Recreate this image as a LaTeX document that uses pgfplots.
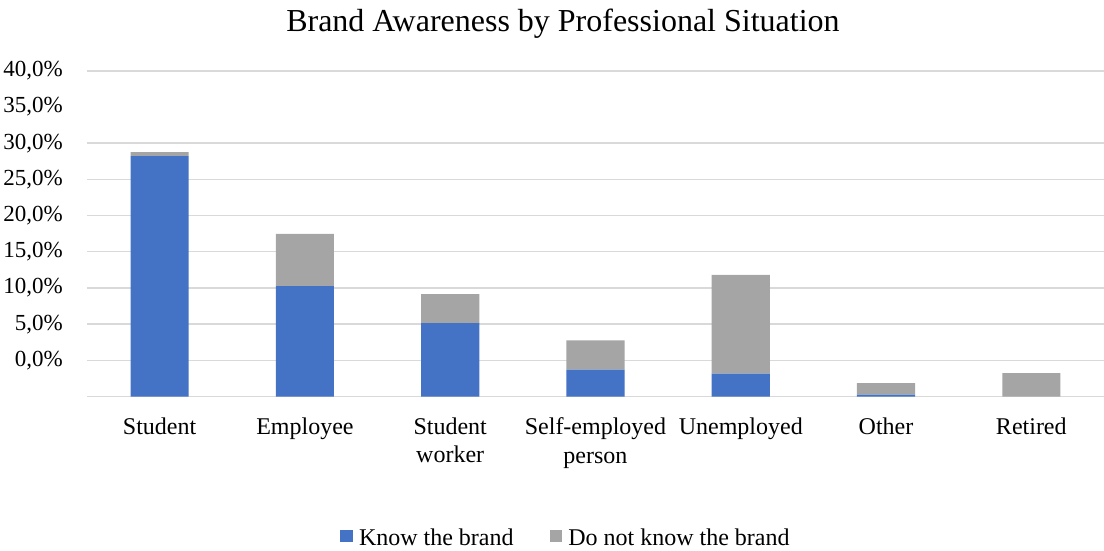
\documentclass[border=0pt]{standalone}
\usepackage{fontspec}
\setmainfont{Liberation Serif}
\usepackage{pgfplots}
\pgfplotsset{compat=1.18}
\definecolor{knowblue}{HTML}{4472C4}
\definecolor{dkgray}{HTML}{A5A5A5}
\definecolor{gridgray}{HTML}{D9D9D9}
\begin{document}
\begin{tikzpicture}[x=1pt,y=1pt]
\useasboundingbox (0,0) rectangle (1104,550);
\node[anchor=base, inner sep=0pt, font=\fontsize{32}{37}\selectfont] at (563,518.5) {Brand Awareness by Professional Situation};
\begin{axis}[
  at={(87pt,153.5pt)}, anchor=south west,
  scale only axis, width=1017pt, height=325.7pt,
  ybar stacked, bar width=0.4,
  xmin=-0.5, xmax=6.5, ymin=0, ymax=45,
  axis line style={draw=none},
  major tick length=0pt,
  xtick={0,1,2,3,4,5,6},
  xticklabels={Student, Employee, {Student\\worker}, {Self-employed\\person}, Unemployed, Other, Retired},
  xticklabel style={align=center, anchor=north, inner sep=0pt, yshift=-21pt, font=\fontsize{24}{28.4}\selectfont},
  ytick={5,10,15,20,25,30,35,40,45},
  yticklabels={{0,0\%},{5,0\%},{10,0\%},{15,0\%},{20,0\%},{25,0\%},{30,0\%},{35,0\%},{40,0\%}},
  yticklabel style={anchor=east, inner sep=0pt, xshift=-24pt, font=\fontsize{23}{27}\selectfont},
  extra y ticks={0,5,10,15,20,25,30,35,45},
  extra y tick labels={},
  extra y tick style={grid=major},
  major grid style={draw=gridgray, line width=1.5pt},
  legend columns=2,
  legend style={at={(axis description cs:0.470,-0.434)}, anchor=center, draw=none,
    font=\fontsize{24}{28}\selectfont, nodes={inner sep=0pt},
    /tikz/every odd column/.append style={column sep=6pt},
    /tikz/every even column/.append style={column sep=36pt}},
  legend image code/.code={\fill[#1] (0pt,-4.5pt) rectangle (12.7pt,8.2pt);},
]
\addplot[fill=knowblue, draw=none] coordinates {(0,33.2) (1,15.26) (2,10.15) (3,3.70) (4,3.15) (5,0.25) (6,0)};
\addplot[fill=dkgray, draw=none] coordinates {(0,0.55) (1,7.22) (2,4.0) (3,4.06) (4,13.67) (5,1.61) (6,3.24)};
\legend{Know the brand, Do not know the brand}
\end{axis}
\end{tikzpicture}
\end{document}
